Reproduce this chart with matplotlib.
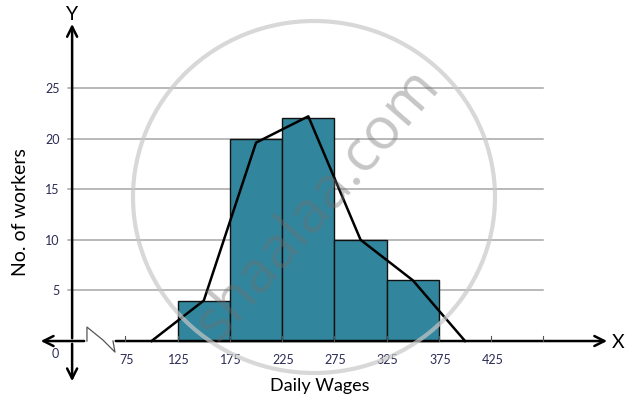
import numpy as np
import matplotlib
matplotlib.use('Agg')
import matplotlib.pyplot as plt
from matplotlib.patches import Ellipse

# histogram data
class_mids = [150, 200, 250, 300, 350]
class_width = 50
workers = [4, 20, 22, 10, 6]

# frequency polygon (as drawn, ends on the empty classes)
poly_x = [100, 150, 200, 250, 300, 350, 400]
poly_y = [0, 4, 19.6, 22.2, 10, 6, 0]

x_ticks = [75, 125, 175, 225, 275, 325, 375, 425, 475]
x_labels = ['75', '125', '175', '225', '275', '325', '375', '425', '']
y_ticks = [5, 10, 15, 20, 25]

plt.rcParams['font.family'] = ['Lato', 'DejaVu Sans']

fig = plt.figure(figsize=(6.28, 4.06), dpi=100, facecolor='white')
ax = fig.add_axes([0, 0, 1, 1])
ax.set_xlim(-45.0, 555.9)
ax.set_ylim(-6.32, 33.79)
ax.axis('off')

Y_AXIS_X = 24
GRID_END = 475

# gridlines
for yv in y_ticks:
    ax.plot([20, GRID_END], [yv, yv], color='#a6a6a6', lw=1.1, zorder=1)
    ax.text(12, yv, str(yv), ha='right', va='center', fontsize=9, color='#2b2b55')

# bars
ax.bar(class_mids, workers, width=class_width, color='#31859c',
       edgecolor='#111111', linewidth=1.0, zorder=2)

# frequency polygon
ax.plot(poly_x, poly_y, color='black', lw=1.8, zorder=3)

# x axis with break
arrow = dict(arrowstyle='->', lw=1.8, color='black', mutation_scale=18)
ax.annotate('', xy=(-8.7, 0), xytext=(38.2, 0), arrowprops=arrow, zorder=4)
ax.annotate('', xy=(538.6, 0), xytext=(63.1, 0), arrowprops=arrow, zorder=4)
ax.plot([38.2, 38.2, 53.5, 65.0, 63.1], [0, 1.38, 0.1, -1.09, 0],
        color='#555555', lw=0.9, zorder=4)

# y axis
ax.annotate('', xy=(Y_AXIS_X, 31.6), xytext=(Y_AXIS_X, 0), arrowprops=arrow, zorder=4)
ax.annotate('', xy=(Y_AXIS_X, -4.25), xytext=(Y_AXIS_X, 0), arrowprops=arrow, zorder=4)

# small ticks on the x axis
for xv, lab in zip(x_ticks, x_labels):
    ax.plot([xv, xv], [0, 0.45], color='#555555', lw=0.8, zorder=4)
    if lab:
        ax.text(xv + 1, -1.75, lab, ha='center', va='center', fontsize=9, color='#2b2b55')
ax.text(8, -1.2, '0', ha='center', va='center', fontsize=9, color='#2b2b55')

ax.text(Y_AXIS_X, 32.4, 'Y', ha='center', va='center', fontsize=14)
ax.text(540.5, 0, 'X', ha='left', va='center', fontsize=14)
ax.text(-25.5, 12.8, 'No. of workers', rotation=90, ha='center', va='center', fontsize=14)
ax.text(260.5, -4.3, 'Daily Wages', ha='center', va='center', fontsize=13)

# watermark
fig.patches.append(Ellipse((314 / 628, 1 - 198 / 406), 362 / 628, 352 / 406,
                           transform=fig.transFigure, fill=False,
                           edgecolor='#c8c8c8', lw=3.0, alpha=0.7, zorder=5))
fig.text(318 / 628, 1 - 205 / 406, 'shaalaa.com', rotation=49, ha='center', va='center',
         fontsize=42, color='#707070', alpha=0.4, family='Open Sans', zorder=6)

fig.savefig('out.png', dpi=100, facecolor='white')
